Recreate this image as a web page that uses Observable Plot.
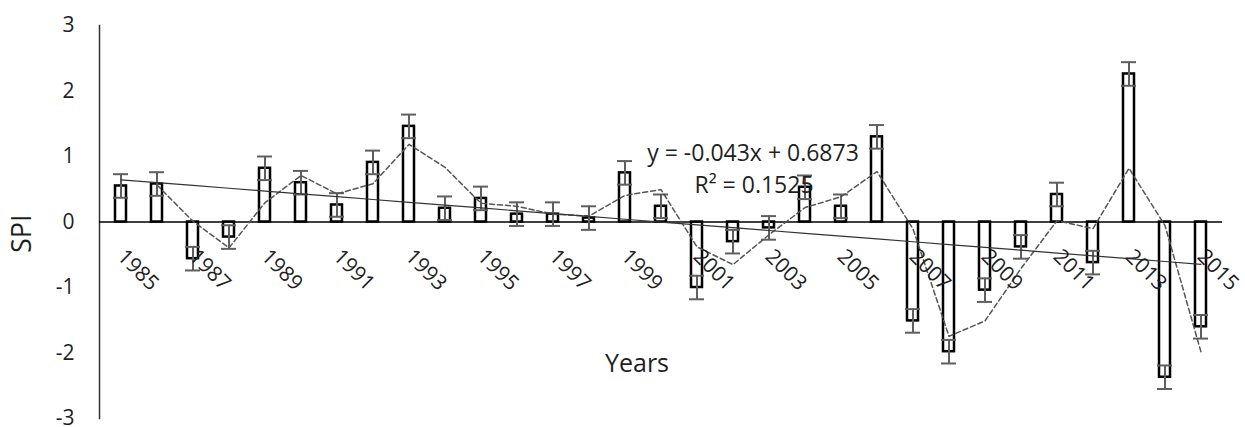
<!DOCTYPE html>
<html><head><meta charset="utf-8">
<script src="https://cdn.jsdelivr.net/npm/d3@7"></script>
<script src="https://cdn.jsdelivr.net/npm/@observablehq/plot@0.6"></script>
<style>body{margin:0;background:#fff;} svg{display:block;}</style>
</head><body><div id="chart"></div>
<script>
const years = [1985,1986,1987,1988,1989,1990,1991,1992,1993,1994,1995,1996,1997,1998,1999,2000,2001,2002,2003,2004,2005,2006,2007,2008,2009,2010,2011,2012,2013,2014,2015];
const spi = [0.55,0.58,-0.56,-0.23,0.82,0.60,0.26,0.91,1.46,0.21,0.36,0.12,0.12,0.06,0.75,0.24,-1.00,-0.30,-0.09,0.53,0.24,1.30,-1.51,-1.98,-1.04,-0.38,0.42,-0.62,2.26,-2.37,-1.60];
const errorAmount = 0.18;
const tickYears = [1985,1987,1989,1991,1993,1995,1997,1999,2001,2003,2005,2007,2009,2011,2013,2015];
const yTicks = [-3,-2,-1,0,1,2,3];
const trendSlope = -0.043, trendIntercept = 0.6873;
const equationLines = ["y = -0.043x + 0.6873", "R\u00b2 = 0.1525"];
const yLabel = "SPI", xLabel = "Years";

const data = years.map((year, i) => ({year, value: spi[i], lo: spi[i] - errorAmount, hi: spi[i] + errorAmount, trend: trendSlope * (i + 1) + trendIntercept}));
// Excel 2-period moving average trendline
const movingAvg = data.slice(1).map((d, k) => ({year: d.year, value: (spi[k] + spi[k + 1]) / 2}));

const font = "'Open Sans', sans-serif";
const chart = Plot.plot({
  width: 1245, height: 427,
  marginTop: 25, marginBottom: 9, marginLeft: 99, marginRight: 23,
  style: {fontFamily: font, fontSize: "21px", color: "#1f1f1f", background: "white"},
  x: {type: "band", domain: years, paddingInner: 0.7, paddingOuter: 0.35, axis: null},
  y: {domain: [-3, 3], ticks: yTicks, tickSize: 0, tickPadding: 25, tickFormat: d => String(d), label: null},
  marks: [
    Plot.frame({anchor: "left", stroke: "#333", strokeWidth: 1.5}),
    Plot.barY(data, {x: "year", y: "value", fill: "white", stroke: "#000", strokeWidth: 2.5}),
    Plot.ruleY([0], {stroke: "#000", strokeWidth: 1.5}),
    Plot.ruleX(data, {x: "year", y1: "lo", y2: "hi", stroke: "#5f5f5f", strokeWidth: 2}),
    Plot.tickY(data, {x: "year", y: "hi", stroke: "#5f5f5f", strokeWidth: 2, insetLeft: -2, insetRight: -2}),
    Plot.tickY(data, {x: "year", y: "lo", stroke: "#5f5f5f", strokeWidth: 2, insetLeft: -2, insetRight: -2}),
    Plot.line(movingAvg, {x: "year", y: "value", stroke: "#555", strokeWidth: 1.5, strokeDasharray: "5,3"}),
    Plot.line(data, {x: "year", y: "trend", stroke: "#333", strokeWidth: 1.2}),
    Plot.text(tickYears, {x: d => d, y: () => 0, text: d => String(d), rotate: 45, textAnchor: "start", lineAnchor: "middle", dy: 31, fontSize: 21, fill: "#1f1f1f"}),
    Plot.text([equationLines[0]], {frameAnchor: "top", text: d => d, dx: 92, dy: 119, fontSize: 23, fill: "#1f1f1f"}),
    Plot.text([equationLines[1]], {frameAnchor: "top", text: d => d, dx: 93, dy: 151, fontSize: 23, fill: "#1f1f1f"}),
    Plot.text([yLabel], {frameAnchor: "left", text: d => d, rotate: -90, dx: -77, dy: 31, fontSize: 27, fill: "#1f1f1f"}),
    Plot.text([xLabel], {frameAnchor: "bottom", text: d => d, dx: -24, dy: -47, fontSize: 25, fill: "#1f1f1f"})
  ]
});
document.getElementById("chart").append(chart);
</script>
</body></html>
